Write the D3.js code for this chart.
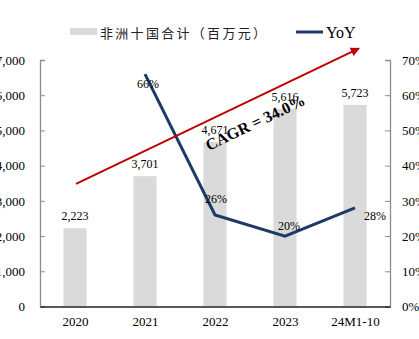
<!DOCTYPE html>
<html>
<head>
<meta charset="utf-8">
<script src="https://cdn.jsdelivr.net/npm/d3@7"></script>
<style>
  html, body { margin: 0; padding: 0; background: #fff; }
  svg { display: block; }
  text { font-family: "Liberation Serif", "Times New Roman", serif; fill: #000; }
</style>
</head>
<body>
<svg id="chart" width="419" height="339"></svg>
<script>
// Revenue of ten African countries (million CNY) and year-on-year growth
const categories = ["2020", "2021", "2022", "2023", "24M1-10"];
const revenue = [2223, 3701, 4671, 5616, 5723];
const yoyCategories = ["2021", "2022", "2023", "24M1-10"];
const yoy = [66, 26, 20, 28];
const leftTicks = [0, 1000, 2000, 3000, 4000, 5000, 6000, 7000];
const rightTicks = [0, 10, 20, 30, 40, 50, 60, 70];
const seriesNames = ["非洲十国合计（百万元）", "YoY"];
const cagrLabel = "CAGR = 34.0%";
// trend arrow endpoints, in (category, revenue) units
const cagrFrom = ["2020", 3480];
const cagrTo = ["24M1-10", 7330];

// label nudges for the YoY values [dx, dy]
const yoyLabelOffset = [[3, 14], [1, -12], [4, -6], [20, 12]];

const svg = d3.select("#chart");
const plotLeft = 40, plotRight = 390, plotTop = 60, plotBottom = 306.5;

const x = d3.scaleBand().domain(categories).range([plotLeft, plotRight])
  .paddingInner(0.67).paddingOuter(0.335);
const xp = d3.scalePoint().domain(categories).range([plotLeft, plotRight]).padding(0.5);
const y = d3.scaleLinear().domain([0, 7000]).range([plotBottom, plotTop]);
const y2 = d3.scaleLinear().domain([0, 70]).range([plotBottom, plotTop]);

const barColor = "#dadada";
const lineColor = "#1f3864";
const red = "#c00000";

// bars
svg.append("g").selectAll("rect").data(revenue).join("rect")
  .attr("x", (d, i) => x(categories[i]))
  .attr("y", d => y(d))
  .attr("width", x.bandwidth())
  .attr("height", d => plotBottom - y(d))
  .attr("fill", barColor);

// left axis
const gL = svg.append("g").attr("transform", `translate(${plotLeft},0)`)
  .call(d3.axisLeft(y).tickValues(leftTicks).tickFormat(d3.format(",")).tickSize(-5).tickPadding(15));
gL.select(".domain").attr("stroke", "#8c8c8c").attr("stroke-width", 1.3);
gL.selectAll(".tick line").attr("stroke", "#8c8c8c");
gL.selectAll("text").style("font-size", "13px").style("font-family", "Liberation Serif");

// right axis
const gR = svg.append("g").attr("transform", `translate(${plotRight},0)`)
  .call(d3.axisRight(y2).tickValues(rightTicks).tickFormat(d => d + "%").tickSize(-5).tickPadding(12));
gR.select(".domain").attr("stroke", "#8c8c8c").attr("stroke-width", 1.3);
gR.selectAll(".tick line").attr("stroke", "#8c8c8c");
gR.selectAll("text").style("font-size", "13px").style("font-family", "Liberation Serif");

// bottom axis
const gB = svg.append("g").attr("transform", `translate(0,${plotBottom})`)
  .call(d3.axisBottom(xp).tickSize(0).tickPadding(10));
gB.select(".domain").attr("stroke", "#222").attr("stroke-width", 1.3);
gB.selectAll("text").style("font-size", "13px").style("font-family", "Liberation Serif");

// bar value labels
svg.append("g").selectAll("text").data(revenue).join("text")
  .attr("x", (d, i) => xp(categories[i]))
  .attr("y", d => y(d) - 8)
  .attr("text-anchor", "middle")
  .style("font-size", "12px")
  .text(d3.format(","));

// YoY line
const line = d3.line().x((d, i) => xp(yoyCategories[i])).y(d => y2(d));
svg.append("path").datum(yoy)
  .attr("d", line)
  .attr("fill", "none")
  .attr("stroke", lineColor)
  .attr("stroke-width", 3);

// YoY labels
svg.append("g").selectAll("text").data(yoy).join("text")
  .attr("x", (d, i) => xp(yoyCategories[i]) + yoyLabelOffset[i][0])
  .attr("y", (d, i) => y2(d) + yoyLabelOffset[i][1])
  .attr("text-anchor", "middle")
  .style("font-size", "12px")
  .text(d => d + "%");

// CAGR trend arrow
svg.append("defs").append("marker")
  .attr("id", "arrowHead")
  .attr("viewBox", "0 0 10 10")
  .attr("refX", 9).attr("refY", 5)
  .attr("markerWidth", 11).attr("markerHeight", 9)
  .attr("markerUnits", "userSpaceOnUse")
  .attr("orient", "auto")
  .append("path").attr("d", "M0,0 L10,5 L0,10 Z").attr("fill", red);

const ax1 = xp(cagrFrom[0]) + 1, ay1 = y(cagrFrom[1]);
const ax2 = xp(cagrTo[0]) + 4, ay2 = y(cagrTo[1]);
svg.append("line")
  .attr("x1", ax1).attr("y1", ay1).attr("x2", ax2).attr("y2", ay2)
  .attr("stroke", red).attr("stroke-width", 2)
  .attr("marker-end", "url(#arrowHead)");

const angle = Math.atan2(ay2 - ay1, ax2 - ax1) * 180 / Math.PI;
svg.append("text")
  .attr("transform", `translate(257.5,127.5) rotate(${angle})`)
  .attr("text-anchor", "middle")
  .style("font-size", "16px")
  .style("font-weight", "bold")
  .text(cagrLabel);

// legend
const leg = svg.append("g");
leg.append("rect").attr("x", 70).attr("y", 28).attr("width", 27).attr("height", 7).attr("fill", barColor);
leg.append("text").attr("x", 100).attr("y", 37.5)
  .style("font-family", "'Noto Sans CJK SC', sans-serif")
  .style("font-size", "13px")
  .style("letter-spacing", "2.3px")
  .style("fill", "#222")
  .text(seriesNames[0]);
leg.append("line").attr("x1", 296).attr("x2", 323).attr("y1", 32).attr("y2", 32)
  .attr("stroke", lineColor).attr("stroke-width", 3);
leg.append("text").attr("x", 326).attr("y", 38)
  .style("font-size", "16px")
  .text(seriesNames[1]);
</script>
</body>
</html>
